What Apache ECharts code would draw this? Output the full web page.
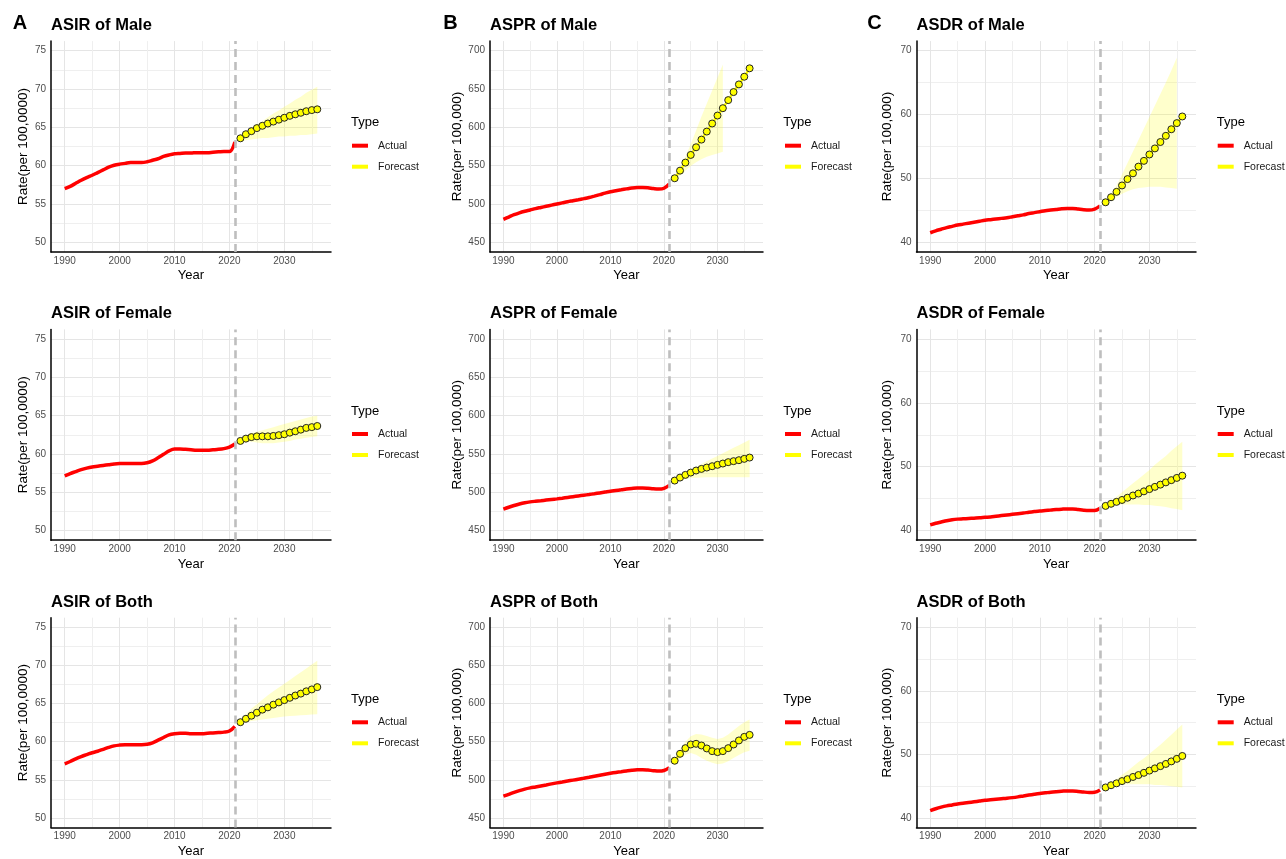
<!DOCTYPE html>
<html><head><meta charset="utf-8">
<script src="https://cdn.jsdelivr.net/npm/echarts@6/dist/echarts.min.js"></script>
<style>html,body{margin:0;padding:0;background:#fff}#c{width:1286px;height:859px}</style>
</head><body><div id="c"></div>
<script>
// ---------------- DATA ----------------
const actualYears = [1990,1991,1992,1993,1994,1995,1996,1997,1998,1999,2000,2001,2002,2003,2004,2005,2006,2007,2008,2009,2010,2011,2012,2013,2014,2015,2016,2017,2018,2019,2020,2021];
const forecastYears = [2022,2023,2024,2025,2026,2027,2028,2029,2030,2031,2032,2033,2034,2035,2036];
const xTicks = [1990,2000,2010,2020,2030];
const asirTicks = [50,55,60,65,70,75];
const asprTicks = [450,500,550,600,650,700];
const asdrTicks = [40,50,60,70];

const asirMaleActual = [57.0,57.3,57.7,58.1,58.45,58.75,59.1,59.45,59.8,60.05,60.2,60.3,60.4,60.4,60.4,60.5,60.7,60.9,61.2,61.4,61.55,61.6,61.65,61.65,61.7,61.7,61.7,61.75,61.8,61.85,61.85,63.1];
const asirMaleFcst = [63.57,64.1,64.5,64.9,65.2,65.5,65.75,66.0,66.25,66.5,66.7,66.9,67.1,67.25,67.35];
const asirMaleUpper = [63.9,64.4,64.9,65.4,65.8,66.3,66.8,67.2,67.7,68.1,68.6,69.0,69.5,69.9,70.3];
const asirMaleLower = [63.2,63.3,63.4,63.5,63.6,63.6,63.7,63.8,63.8,63.9,63.9,64.0,64.0,64.1,64.2];

const asirFemaleActual = [57.15,57.45,57.7,57.95,58.15,58.3,58.4,58.5,58.6,58.7,58.75,58.75,58.75,58.75,58.75,58.85,59.1,59.5,59.95,60.4,60.65,60.65,60.6,60.55,60.5,60.5,60.5,60.55,60.6,60.7,60.9,61.3];
const asirFemaleFcst = [61.7,62.0,62.2,62.3,62.3,62.3,62.35,62.45,62.57,62.78,62.96,63.17,63.4,63.5,63.65];
const asirFemaleUpper = [61.9,62.4,62.7,62.9,63.1,63.3,63.5,63.7,63.9,64.1,64.3,64.5,64.7,64.9,65.0];
const asirFemaleLower = [61.5,61.6,61.6,61.5,61.4,61.4,61.4,61.5,61.6,61.7,61.9,62.0,62.1,62.2,62.3];

const asirBothActual = [57.1,57.4,57.75,58.05,58.3,58.55,58.75,59.0,59.25,59.45,59.55,59.6,59.6,59.6,59.6,59.65,59.85,60.2,60.55,60.9,61.05,61.1,61.1,61.05,61.05,61.05,61.1,61.15,61.2,61.25,61.4,62.0];
const asirBothFcst = [62.55,63.0,63.4,63.8,64.2,64.5,64.85,65.15,65.45,65.75,66.05,66.3,66.6,66.85,67.15];
const asirBothUpper = [62.8,63.6,64.3,64.9,65.5,66.1,66.6,67.1,67.6,68.1,68.6,69.1,69.6,70.1,70.6];
const asirBothLower = [62.3,62.5,62.7,62.8,62.9,63.0,63.1,63.2,63.3,63.35,63.4,63.45,63.5,63.55,63.6];

const asprMaleActual = [480,483,486,488.5,490.5,492.2,494,495.5,497,498.5,500,501.5,503,504.3,505.6,507,508.5,510.3,512.2,514.2,516,517.3,518.5,519.7,520.8,521.5,521.6,521.2,520.2,519.5,520.5,526];
const asprMaleFcst = [533.6,543.5,554,564,574,584,594.5,605,615.4,625,635.5,646,656,666,677];
const asprMaleUpper = [536,548,562,578,596,614,631,648,665,682];
const asprMaleLower = [531,537,543.5,549.5,554.5,558.5,561.5,564,566,568];

const asprFemaleActual = [478,480.5,482.8,484.8,486.4,487.5,488.3,489,489.8,490.6,491.4,492.3,493.3,494.3,495.3,496.2,497.1,498.1,499.2,500.3,501.4,502.3,503.2,504.2,505,505.6,505.6,505.2,504.5,504.2,505.2,509];
const asprFemaleFcst = [515.3,519.2,522.7,525.7,528.4,530.5,532.3,534.0,535.8,537.5,539.3,540.6,541.9,543.6,545.3];
const asprFemaleUpper = [517,521,525,529,533,537,540.5,544,547.5,551,554.5,558,561.5,565,568.5];
const asprFemaleLower = [513.5,516,517.5,518.5,519,519.3,519.5,519.6,519.7,519.7,519.7,519.7,519.7,519.7,519.7];

const asprBothActual = [478.5,481,483.5,485.8,487.8,489.4,490.7,492,493.3,494.7,496,497.2,498.4,499.6,500.8,502,503.3,504.7,506.1,507.4,508.6,509.7,510.7,511.7,512.6,513.2,513.3,512.8,512,511.4,512.2,516];
const asprBothFcst = [525,534.1,541.5,546.3,547.2,545,541.1,537.6,536.3,537.6,541.5,546.3,551.6,556.3,558.9];
const asprBothUpper = [528,540,550,557,560,559.5,557.5,555,553.5,555,559.5,565,570.5,575.5,579];
const asprBothLower = [522,528,533,535,533,528.5,525,522.5,520.5,521.5,524.5,528.5,532.5,536,538];

const asdrMaleActual = [41.5,41.8,42.05,42.3,42.5,42.7,42.85,43.0,43.15,43.3,43.45,43.55,43.65,43.75,43.85,44.0,44.15,44.3,44.5,44.65,44.8,44.95,45.05,45.15,45.25,45.3,45.3,45.2,45.1,45.05,45.2,45.7];
const asdrMaleFcst = [46.27,47.06,47.9,48.9,49.9,50.8,51.85,52.75,53.75,54.7,55.7,56.67,57.7,58.66,59.7];
const asdrMaleUpper = [46.6,47.6,48.9,50.6,52.4,54.2,56.0,57.8,59.6,61.4,63.2,65.0,66.9,68.9];
const asdrMaleLower = [45.9,46.5,47.1,47.6,48.0,48.3,48.5,48.6,48.7,48.7,48.7,48.6,48.5,48.4];

const asdrFemaleActual = [40.9,41.15,41.35,41.55,41.7,41.8,41.85,41.9,41.95,42.0,42.08,42.15,42.25,42.35,42.45,42.55,42.65,42.75,42.87,42.98,43.08,43.15,43.22,43.3,43.36,43.4,43.4,43.3,43.2,43.15,43.15,43.5];
const asdrFemaleFcst = [43.87,44.2,44.5,44.8,45.15,45.5,45.8,46.15,46.5,46.85,47.2,47.55,47.9,48.25,48.6];
const asdrFemaleUpper = [44.0,44.6,45.3,46.0,46.7,47.4,48.1,48.8,49.5,50.3,51.0,51.7,52.5,53.2,53.9];
const asdrFemaleLower = [43.7,43.9,44.0,44.1,44.1,44.1,44.1,44.0,44.0,43.9,43.8,43.7,43.5,43.4,43.2];

const asdrBothActual = [41.15,41.45,41.7,41.9,42.05,42.2,42.3,42.42,42.54,42.66,42.78,42.86,42.94,43.02,43.1,43.2,43.32,43.46,43.6,43.73,43.85,43.95,44.05,44.13,44.2,44.26,44.26,44.18,44.08,44.02,44.05,44.4];
const asdrBothFcst = [44.8,45.15,45.45,45.8,46.1,46.45,46.75,47.1,47.45,47.8,48.15,48.5,48.9,49.3,49.75];
const asdrBothUpper = [45.0,45.5,46.1,46.8,47.4,48.1,48.8,49.4,50.1,50.8,51.5,52.3,53.1,53.9,54.7];
const asdrBothLower = [44.6,44.9,45.1,45.2,45.3,45.3,45.3,45.3,45.3,45.2,45.2,45.1,45.0,44.9,44.8];

const panelTitles = ['ASIR of Male','ASPR of Male','ASDR of Male','ASIR of Female','ASPR of Female','ASDR of Female','ASIR of Both','ASPR of Both','ASDR of Both'];
const panelLetters = ['A','B','C'];
const yNames = ['Rate(per 100,0000)','Rate(per 100,000)','Rate(per 100,000)'];

// ---------------- LAYOUT / STYLE ----------------
const FONT = 'Liberation Sans, Arial, Helvetica, sans-serif';
const colLeft = [51, 490, 916.5];
const colWidth = [280, 273, 279.5];
const rowTop = [41.1, 329.4, 617.7];
const plotH = 210.8;
const legendLeft = [352, 785, 1217.7];
const typeLeft = [351, 783.3, 1216.7];
const yNameGap = [21.2, 25.2, 22.3];
const T = 'rgba(0,0,0,0)', MAJ = '#e5e5e5', MIN = '#efefef';
const cEvery = [];
for (let i = 0; i < 20; i++) cEvery.push(i === 3 ? MAJ : (i === 13 ? MIN : T));
const yAxisCfg = [
  {min:48.75, max:76.25, interval:1.25, ticks:asirTicks, colors:[T,MAJ,T,MIN]},
  {min:437.5, max:712.5, interval:12.5, ticks:asprTicks, colors:[T,MAJ,T,MIN]},
  {min:38.5, max:71.5, interval:0.5, ticks:asdrTicks, colors:cEvery}
];

const panels = [
  {a:asirMaleActual, f:asirMaleFcst, u:asirMaleUpper, l:asirMaleLower},
  {a:asprMaleActual, f:asprMaleFcst, u:asprMaleUpper, l:asprMaleLower},
  {a:asdrMaleActual, f:asdrMaleFcst, u:asdrMaleUpper, l:asdrMaleLower},
  {a:asirFemaleActual, f:asirFemaleFcst, u:asirFemaleUpper, l:asirFemaleLower},
  {a:asprFemaleActual, f:asprFemaleFcst, u:asprFemaleUpper, l:asprFemaleLower},
  {a:asdrFemaleActual, f:asdrFemaleFcst, u:asdrFemaleUpper, l:asdrFemaleLower},
  {a:asirBothActual, f:asirBothFcst, u:asirBothUpper, l:asirBothLower},
  {a:asprBothActual, f:asprBothFcst, u:asprBothUpper, l:asprBothLower},
  {a:asdrBothActual, f:asdrBothFcst, u:asdrBothUpper, l:asdrBothLower}
];

function tickFmt(list){
  return function(v){
    for (const t of list) if (Math.abs(t - v) < 1e-6) return String(t);
    return '';
  };
}

const grid = [], xAxis = [], yAxis = [], series = [], title = [], legend = [];
panels.forEach((p, k) => {
  const col = k % 3, row = Math.floor(k / 3);
  const yc = yAxisCfg[col];
  grid.push({left: colLeft[col], top: rowTop[row], width: colWidth[col], height: plotH, containLabel:false});
  xAxis.push({
    type:'value', gridIndex:k, min:1987.5, max:2038.5, interval:2.5,
    name:'Year', nameLocation:'middle', nameGap:17.5,
    nameTextStyle:{fontSize:13, color:'#000', fontFamily:FONT},
    axisLine:{show:true, onZero:false, lineStyle:{color:'#000', width:1.5}},
    axisTick:{show:false},
    axisLabel:{formatter:tickFmt(xTicks), fontSize:10, color:'#4d4d4d', margin:4, fontFamily:FONT},
    splitLine:{show:true, showMaxLine:false, lineStyle:{color:[T,MAJ,T,MIN], width:1}}
  });
  yAxis.push({
    type:'value', gridIndex:k, min:yc.min, max:yc.max, interval:yc.interval,
    name:yNames[col], nameLocation:'middle', nameGap:yNameGap[col], nameRotate:90,
    nameTextStyle:{fontSize:13.5, color:'#000', fontFamily:FONT},
    axisLine:{show:true, onZero:false, lineStyle:{color:'#000', width:1.5}},
    axisTick:{show:false},
    axisLabel:{formatter:tickFmt(yc.ticks), fontSize:10, color:'#4d4d4d', margin:5, fontFamily:FONT},
    splitLine:{show:true, lineStyle:{color:yc.colors, width:1}}
  });
  const by = forecastYears.slice(0, p.u.length);
  series.push({
    type:'custom', name:'band-' + k, xAxisIndex:k, yAxisIndex:k, silent:true, z:1,
    data: by.map((y, i) => [y, p.l[i], p.u[i]]),
    encode:{x:0, y:[1,2]},
    renderItem: function(params, api){
      if (params.dataIndex !== 0) return;
      const pts = [];
      for (let i = 0; i < by.length; i++) pts.push(api.coord([by[i], p.u[i]]));
      for (let i = by.length - 1; i >= 0; i--) pts.push(api.coord([by[i], p.l[i]]));
      return {type:'polygon', shape:{points:pts}, style:{fill:'rgba(255,255,0,0.2)', stroke:null}};
    },
    animation:false
  });
  series.push({
    type:'line', name:'Actual', xAxisIndex:k, yAxisIndex:k,
    data: actualYears.map((y, i) => [y, p.a[i]]), smooth:0.35, symbol:'none',
    lineStyle:{color:'#ff0000', width:3.5}, itemStyle:{color:'#ff0000'}, z:3, animation:false,
    markLine:{silent:true, symbol:['none','none'], label:{show:false}, animation:false,
      lineStyle:{color:'#bebebe', width:2.6, type:[8,5]}, data:[{xAxis:2021}]}
  });
  series.push({
    type:'line', name:'Forecast', xAxisIndex:k, yAxisIndex:k,
    data: forecastYears.map((y, i) => [y, p.f[i]]), symbol:'circle', symbolSize:7,
    lineStyle:{color:'#ffff00', width:2.5},
    itemStyle:{color:'#ffff00', borderColor:'#222', borderWidth:1}, z:4, animation:false
  });
  title.push({text:panelTitles[k], left:colLeft[col], top:rowTop[row] - 24.2, padding:0,
    textStyle:{fontSize:16.5, fontWeight:'bold', color:'#000', fontFamily:FONT}});
  title.push({text:'Type', left:typeLeft[col], top:rowTop[row] + 75.1, padding:0,
    textStyle:{fontSize:13, fontWeight:'normal', color:'#000', fontFamily:FONT}});
  legend.push({
    orient:'vertical', left:legendLeft[col], top:rowTop[row] + 99.1, padding:0, itemGap:10,
    itemWidth:16, itemHeight:4, icon:'rect', selectedMode:false,
    textStyle:{fontSize:10.5, color:'#1a1a1a', fontFamily:FONT, padding:[0,0,0,5]},
    data:[{name:'Actual', itemStyle:{color:'#ff0000', borderWidth:0}},
          {name:'Forecast', itemStyle:{color:'#ffff00', borderWidth:0}}]
  });
});
const letterLeft = [12.7, 443.3, 867.3];
panelLetters.forEach((L, i) => {
  title.push({text:L, left:letterLeft[i], top:13.7, padding:0,
    textStyle:{fontSize:20, fontWeight:'bold', color:'#000', fontFamily:FONT}});
});

const chart = echarts.init(document.getElementById('c'), null, {renderer:'canvas'});
chart.setOption({animation:false, backgroundColor:'#fff', textStyle:{fontFamily:FONT},
  grid, xAxis, yAxis, series, title, legend});
</script>
</body></html>
